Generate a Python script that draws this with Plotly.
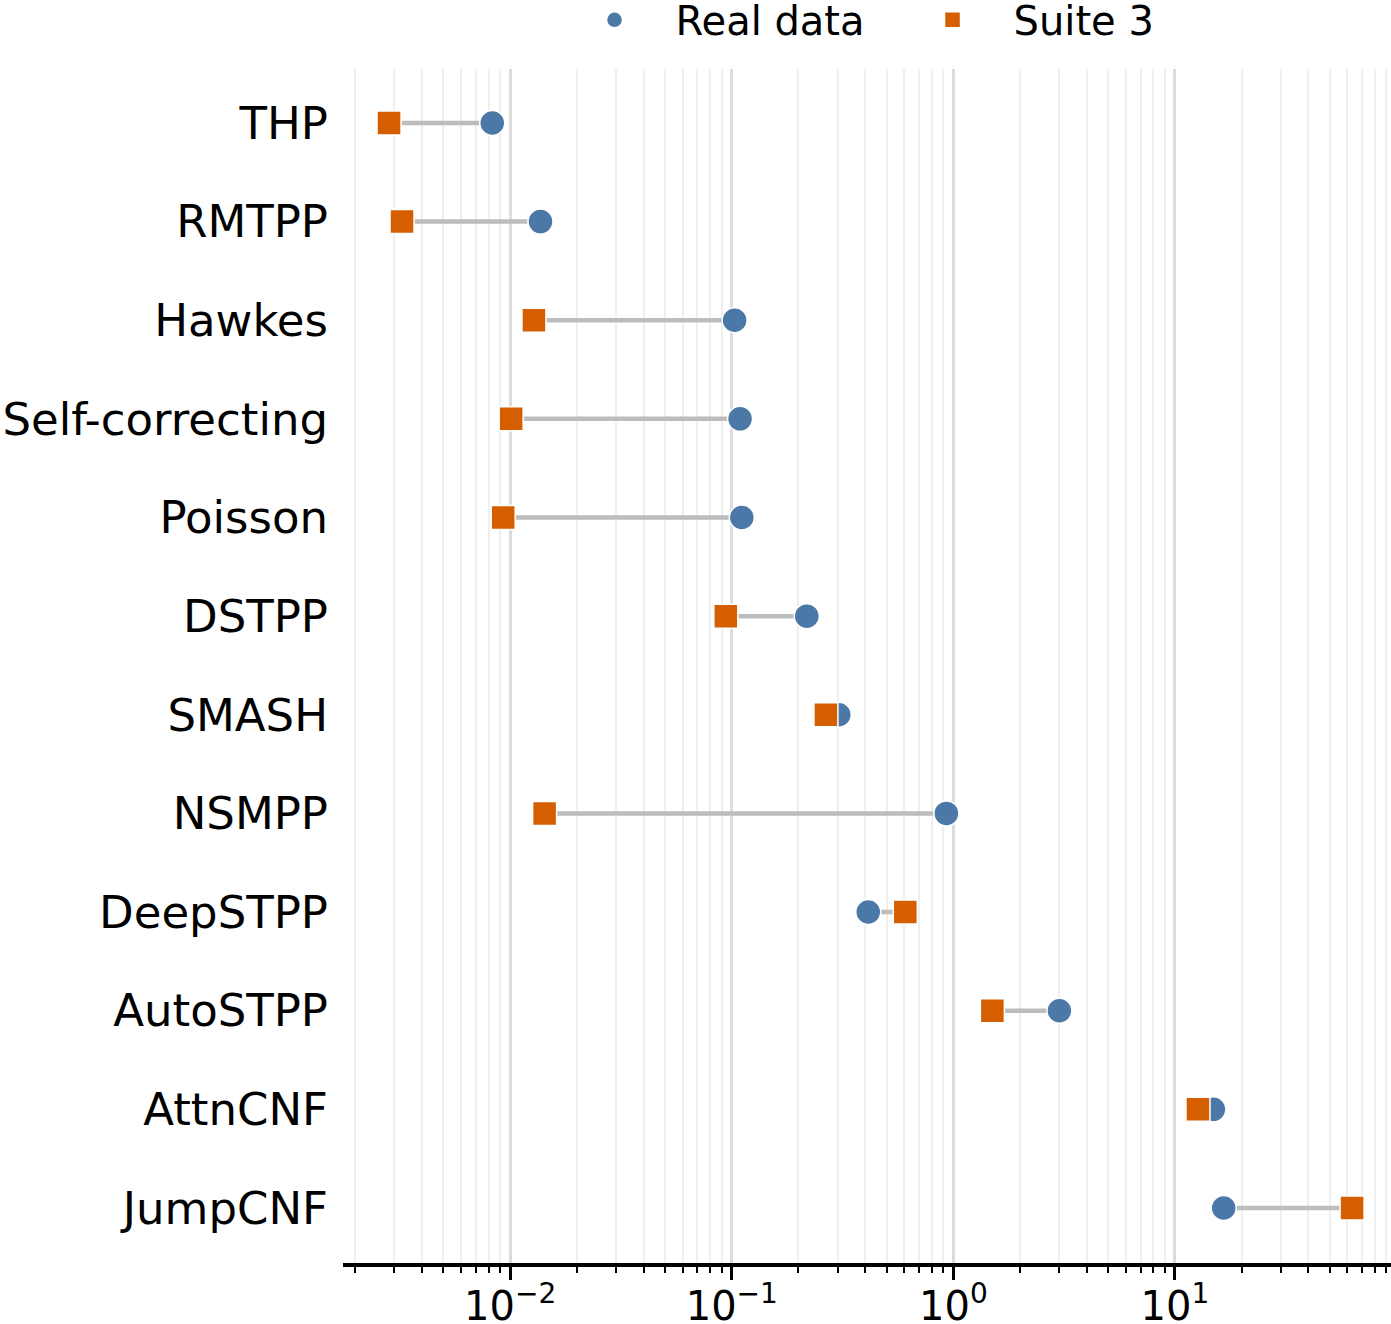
import plotly.graph_objects as go

models = ["THP", "RMTPP", "Hawkes", "Self-correcting", "Poisson", "DSTPP",
          "SMASH", "NSMPP", "DeepSTPP", "AutoSTPP", "AttnCNF", "JumpCNF"]
real_data = [0.0083, 0.0137, 0.103, 0.109, 0.111, 0.218,
             0.304, 0.93, 0.413, 3.01, 14.9, 16.6]
suite3 = [0.00284, 0.00325, 0.0128, 0.0101, 0.0093, 0.094,
          0.266, 0.0143, 0.607, 1.50, 12.7, 63.0]

major_ticks = [0.01, 0.1, 1, 10]
major_text = ["10<sup>−2</sup>", "10<sup>−1</sup>", "10<sup>0</sup>", "10<sup>1</sup>"]
minor_ticks = [m * 10.0 ** e for e in range(-3, 2) for m in range(2, 10)]

FONT = "DejaVu Sans"

# connector lines
lx, ly = [], []
for m, r, s in zip(models, real_data, suite3):
    lx += [s, r, None]
    ly += [m, m, None]

fig = go.Figure()
fig.add_trace(go.Scatter(x=lx, y=ly, mode="lines",
                         line=dict(color="#bdbdbd", width=4.5),
                         showlegend=False, hoverinfo="skip"))
fig.add_trace(go.Scatter(x=real_data, y=models, mode="markers", name="Real data",
                         marker=dict(symbol="circle", size=25, color="#4C78A8",
                                     line=dict(color="white", width=1.5))))
fig.add_trace(go.Scatter(x=suite3, y=models, mode="markers", name="Suite 3",
                         marker=dict(symbol="square", size=24, color="#D55E00",
                                     line=dict(color="white", width=1.5))))

fig.update_layout(
    width=1391, height=1324,
    margin=dict(l=343, r=0, t=69, b=61),
    paper_bgcolor="white", plot_bgcolor="white",
    font=dict(family=FONT, size=40, color="black"),
    legend=dict(orientation="h", x=0.5234, xanchor="center",
                yref="container", y=0.985, yanchor="middle",
                font=dict(size=40), itemwidth=112, entrywidth=211,
                bgcolor="rgba(0,0,0,0)"),
    xaxis=dict(type="log", range=[-2.7545, 1.975], automargin=False,
               tickvals=major_ticks, ticktext=major_text,
               ticks="outside", ticklen=13, tickwidth=2.5, tickcolor="black",
               ticklabelstandoff=-8,
               showline=True, linecolor="black", linewidth=3.5,
               showgrid=True, gridcolor="#dcdcdc", gridwidth=3,
               tickfont=dict(size=40),
               zeroline=False,
               minor=dict(tickvals=minor_ticks, ticks="outside", ticklen=6,
                          tickwidth=2, tickcolor="black",
                          showgrid=True, gridcolor="#efefef", gridwidth=2)),
    yaxis=dict(type="category", categoryorder="array", categoryarray=models,
               range=[11.558, -0.547], showgrid=False, zeroline=False,
               automargin=False,
               showline=False, ticks="", ticklabelstandoff=14,
               tickfont=dict(size=45)),
)

fig.write_html("out.html")
